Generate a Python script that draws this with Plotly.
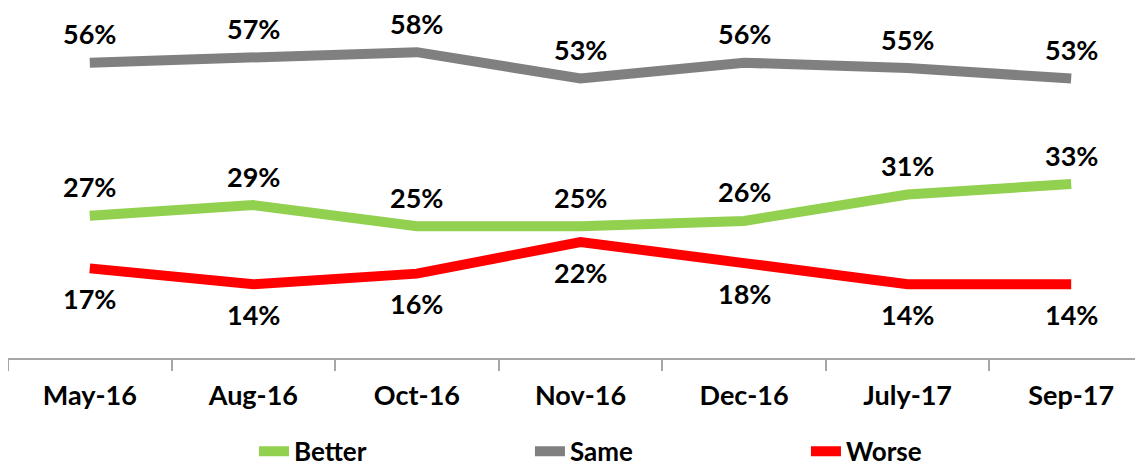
import plotly.graph_objects as go

categories = ["May-16", "Aug-16", "Oct-16", "Nov-16", "Dec-16", "July-17", "Sep-17"]
better = [27, 29, 25, 25, 26, 31, 33]
same = [56, 57, 58, 53, 56, 55, 53]
worse = [17, 14, 16, 22, 18, 14, 14]

series = [
    ("Better", better, "#92D050", 29),
    ("Same", same, "#808080", 29),
    ("Worse", worse, "#FF0000", -30),
]

FONT = "Lato"
fig = go.Figure()
annotations = []
for name, vals, color, shift in series:
    fig.add_trace(go.Scatter(
        x=categories, y=vals, name=f"<b>{name}</b>", mode="lines",
        line=dict(color=color, width=10),
        hoverinfo="skip",
    ))
    for c, v in zip(categories, vals):
        annotations.append(dict(
            x=c, y=v, text=f"<b>{v}%</b>", showarrow=False, yshift=shift,
            font=dict(family=FONT, size=27, color="#000000"),
        ))

# The page body has an 8px default margin, so the figure is sized to fit the window.
fig.update_layout(
    width=1135, height=458,
    margin=dict(l=0, r=0, t=2, b=108, autoexpand=False),
    paper_bgcolor="white", plot_bgcolor="white",
    annotations=annotations,
    showlegend=True,
    legend=dict(
        orientation="h", x=0.2167, xanchor="left", y=-0.268, yanchor="middle",
        font=dict(family=FONT, size=26, color="#000000"),
        entrywidth=231, entrywidthmode="pixels",
        traceorder="normal",
    ),
    xaxis=dict(
        type="category", showgrid=False, showline=True, linecolor="#A6A6A6", linewidth=1.5,
        ticks="outside", tickson="boundaries", ticklen=11, tickcolor="#A6A6A6", tickwidth=1.5,
        tickfont=dict(family=FONT, size=27, color="#000000"),
        tickprefix="<b>", ticksuffix="</b>", ticklabelstandoff=13,
        range=[-0.5, 6.439], fixedrange=True, automargin=False,
    ),
    yaxis=dict(
        range=[0, 66], showgrid=False, showline=False, showticklabels=False,
        zeroline=False, fixedrange=True, automargin=False,
    ),
)

fig.write_html("out.html")
